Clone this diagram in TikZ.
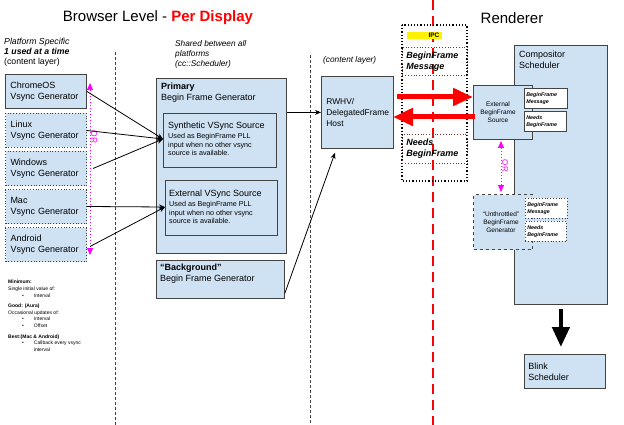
\documentclass[tikz,border=0pt]{standalone}
\usepackage{fontspec}
\setmainfont{Liberation Sans}
\usetikzlibrary{arrows.meta}
\definecolor{boxfill}{HTML}{CFE2F3}
\definecolor{boxline}{HTML}{434343}
\definecolor{mag}{HTML}{FF00FF}
\hyphenpenalty=10000
\exhyphenpenalty=10000
\begin{document}
\begin{tikzpicture}[x=1pt,y=-1pt,
  box/.style={draw=boxline, fill=boxfill, line width=0.8pt, inner sep=0pt, anchor=north west},
  dbox/.style={box, dotted, line width=1pt},
  lbl/.style={inner sep=0pt, anchor=north west, align=left},
  fa/.style={font=\fontsize{9}{11.2}\selectfont},
  fb/.style={font=\fontsize{7.2}{8.6}\selectfont},
  fsm/.style={font=\fontsize{5.3}{6.6}\selectfont\bfseries\itshape},
  arr/.style={-{Stealth[length=6pt,width=5pt]}, line width=0.8pt},
  sep/.style={draw=boxline, line width=0.9pt, dash pattern=on 3pt off 2pt},
  magarr/.style={mag, dotted, line width=1pt, {Triangle[length=7pt,width=6pt]}-{Triangle[length=7pt,width=6pt]}},
  redarr/.style={red, line width=5pt, -{Triangle[length=20pt,width=17pt]}}
]
\useasboundingbox (0,0) rectangle (624,425);

% titles
\node[inner sep=0pt, font=\fontsize{15}{18}\selectfont] (title) at (158,18) {Browser Level - \textcolor{red}{\textbf{Per Display}}};
\node[inner sep=0pt, font=\fontsize{15}{18}\selectfont] (rtitle) at (512,18) {Renderer};

% separators
\draw[sep] (115,52) -- (115,425);
\draw[sep] (310,55) -- (310,425);
\draw[red, line width=1.5pt, dash pattern=on 10pt off 6pt] (433,0) -- (433,425);

% column headings
\node[lbl, font=\fontsize{8.7}{9.8}\selectfont] (plat) at (4,38) {\textit{Platform Specific}\\\textbf{\textit{1 used at a time}}\\(content layer)};
\node[lbl, font=\fontsize{8.3}{10}\selectfont\itshape] (shared) at (175,40) {Shared between all\\platforms\\(cc::Scheduler)};
\node[lbl, font=\fontsize{8.3}{10}\selectfont\itshape] (cl) at (323,56) {(content layer)};

% left column
\node[box, minimum width=81pt, minimum height=34pt, text width=71pt, align=left, fa] (chrome) at (5,74) {ChromeOS\\Vsync Generator};
\node[dbox, minimum width=81pt, minimum height=34pt, text width=71pt, align=left, fa] (linux) at (5,113) {Linux\\Vsync Generator};
\node[dbox, minimum width=81pt, minimum height=34pt, text width=71pt, align=left, fa] (windows) at (5,151) {Windows\\Vsync Generator};
\node[dbox, minimum width=81pt, minimum height=34pt, text width=71pt, align=left, fa] (mac) at (5,189) {Mac\\Vsync Generator};
\node[dbox, minimum width=81pt, minimum height=34pt, text width=71pt, align=left, fa] (android) at (5,227) {Android\\Vsync Generator};

\coordinate (orA) at (90,83);
\coordinate (orB) at (90,255);
\draw[magarr] (orA) -- (orB);
\node[mag, rotate=-90, inner sep=0pt, font=\fontsize{8.5}{9}\selectfont] (or1) at (94,137) {OR};

% notes
\node[lbl, font=\fontsize{5}{6.6}\selectfont] (notes) at (8,280) {\textbf{Minimum:}\\Single initial value of:\\\hspace*{14pt}\textbullet\hspace{10pt}Interval\\[4pt]
\textbf{Good: (Aura)}\\Occasional updates of:\\\hspace*{14pt}\textbullet\hspace{10pt}Interval\\\hspace*{14pt}\textbullet\hspace{10pt}Offset\\[4pt]
\textbf{Best:(Mac \& Android)}\\\hspace*{14pt}\textbullet\hspace{10pt}Callback every vsync\\\hspace*{14pt}\phantom{\textbullet}\hspace{10pt}interval};

% primary
\node[box, minimum width=130pt, minimum height=175pt] (primary) at (156,78) {};
\node[lbl, fa] (primlbl) at (161,83) {\textbf{Primary}\\Begin Frame Generator};
\node[box, line width=1pt, minimum width=113pt, minimum height=54pt] (synth) at (163,113) {};
\node[lbl, fa] (synthT) at (168,122) {Synthetic VSync Source};
\node[lbl, fb] (synthD) at (168,133) {Used as BeginFrame PLL\\input when no other vsync\\source is available.};
\node[box, line width=1pt, minimum width=112pt, minimum height=55pt] (ext) at (165,180) {};
\node[lbl, fa] (extT) at (169,190) {External VSync Source};
\node[lbl, fb] (extD) at (169,201) {Used as BeginFrame PLL\\input when no other vsync\\source is available.};
\node[box, minimum width=128pt, minimum height=38pt] (bg) at (156,260) {};
\node[lbl, fa] (bglbl) at (160,264) {\textbf{``Background''}\\Begin Frame Generator};

% arrows into sources
\coordinate (sIn) at (163,139);
\coordinate (eIn) at (165,207);
\draw[arr] (chrome.east) -- (sIn);
\draw[arr] (linux.east) -- (sIn);
\draw[arr] ([xshift=6pt]windows.east) -- (sIn);
\draw[arr] (mac.east) -- (eIn);
\draw[arr] ([xshift=3pt,yshift=-2pt]android.east) -- (eIn);

% RWHV
\node[box, minimum width=72pt, minimum height=72pt, text width=62pt, align=left, font=\fontsize{8.4}{11}\selectfont] (rwhv) at (321,76) {RWHV/\\DelegatedFrame\\Host};
\draw[arr] (primary.east |- rwhv.west) -- (rwhv.west);
\draw[arr] ([yshift=-14pt]bg.east) -- ([xshift=14pt,yshift=-4pt]rwhv.south west);

% IPC
\draw[dotted, line width=1.2pt] (402,25) rectangle (467,181);
\node[fill=yellow, minimum width=35pt, minimum height=7pt, inner sep=0pt, anchor=north west] (hl) at (407,32) {};
\node[inner sep=0pt, font=\fontsize{6.5}{7}\selectfont\bfseries] (ipc) at (434,35.5) {IPC};
\node[draw=boxline!70!red, dotted, line width=0.8pt, minimum width=65pt, minimum height=28pt, inner sep=0pt, anchor=north west, text width=57pt, align=left, font=\fontsize{9}{11.2}\selectfont\bfseries\itshape] (bfm) at (402,47) {BeginFrame\\Message};
\node[draw=boxline!70!red, dotted, line width=0.8pt, minimum width=65pt, minimum height=29pt, inner sep=0pt, anchor=north west, text width=57pt, align=left, font=\fontsize{9}{11.2}\selectfont\bfseries\itshape] (nbf) at (402,134) {Needs\\BeginFrame};

% renderer side
\node[box, minimum width=93pt, minimum height=259pt] (comp) at (514,45) {};
\node[lbl, fa] (complbl) at (519,51) {Compositor\\Scheduler};
\node[box, minimum width=59pt, minimum height=54pt] (ebs) at (473,85) {};
\node[inner sep=0pt, align=center, font=\fontsize{6.5}{7.8}\selectfont] (ebslbl) at (498,112) {External\\BeginFrame\\Source};
\node[box, fill=white, minimum width=43pt, minimum height=20pt, text width=39pt, align=left, fsm] (s1) at (524,88) {BeginFrame\\Message};
\node[box, fill=white, minimum width=42pt, minimum height=20pt, text width=38pt, align=left, fsm] (s2) at (524,111) {Needs\\BeginFrame};

\node[box, dashed, line width=1.2pt, minimum width=59pt, minimum height=55pt] (unth) at (473,194) {};
\node[inner sep=0pt, align=center, font=\fontsize{6.5}{7.8}\selectfont] (unthlbl) at (501,222) {``Unthrottled''\\BeginFrame\\Generator};
\node[box, dotted, fill=white, minimum width=42pt, minimum height=20pt, text width=38pt, align=left, fsm] (s3) at (525,198) {BeginFrame\\Message};
\node[box, dotted, fill=white, minimum width=41pt, minimum height=20pt, text width=37pt, align=left, fsm] (s4) at (525,221) {Needs\\BeginFrame};

\coordinate (orC) at (501,141);
\coordinate (orD) at (501,192);
\draw[magarr] (orC) -- (orD);
\node[mag, rotate=-90, inner sep=0pt, font=\fontsize{8}{9}\selectfont] (or2) at (505,166) {OR};

% red IPC arrows
\draw[redarr] ([xshift=3pt,yshift=-21pt]rwhv.north east) -- (ebs.west |- 0,97);
\draw[redarr] (475,117) -- (393,117);

% blink
\node[box, minimum width=81pt, minimum height=34pt, text width=73pt, align=left, fa] (blink) at (524,354) {Blink\\Scheduler};
\coordinate (dArrS) at ([yshift=-4pt]comp.south);
\draw[line width=4.5pt, -{Triangle[length=20pt,width=17pt]}] (dArrS) -- (dArrS |- 0,347);
\end{tikzpicture}
\end{document}
